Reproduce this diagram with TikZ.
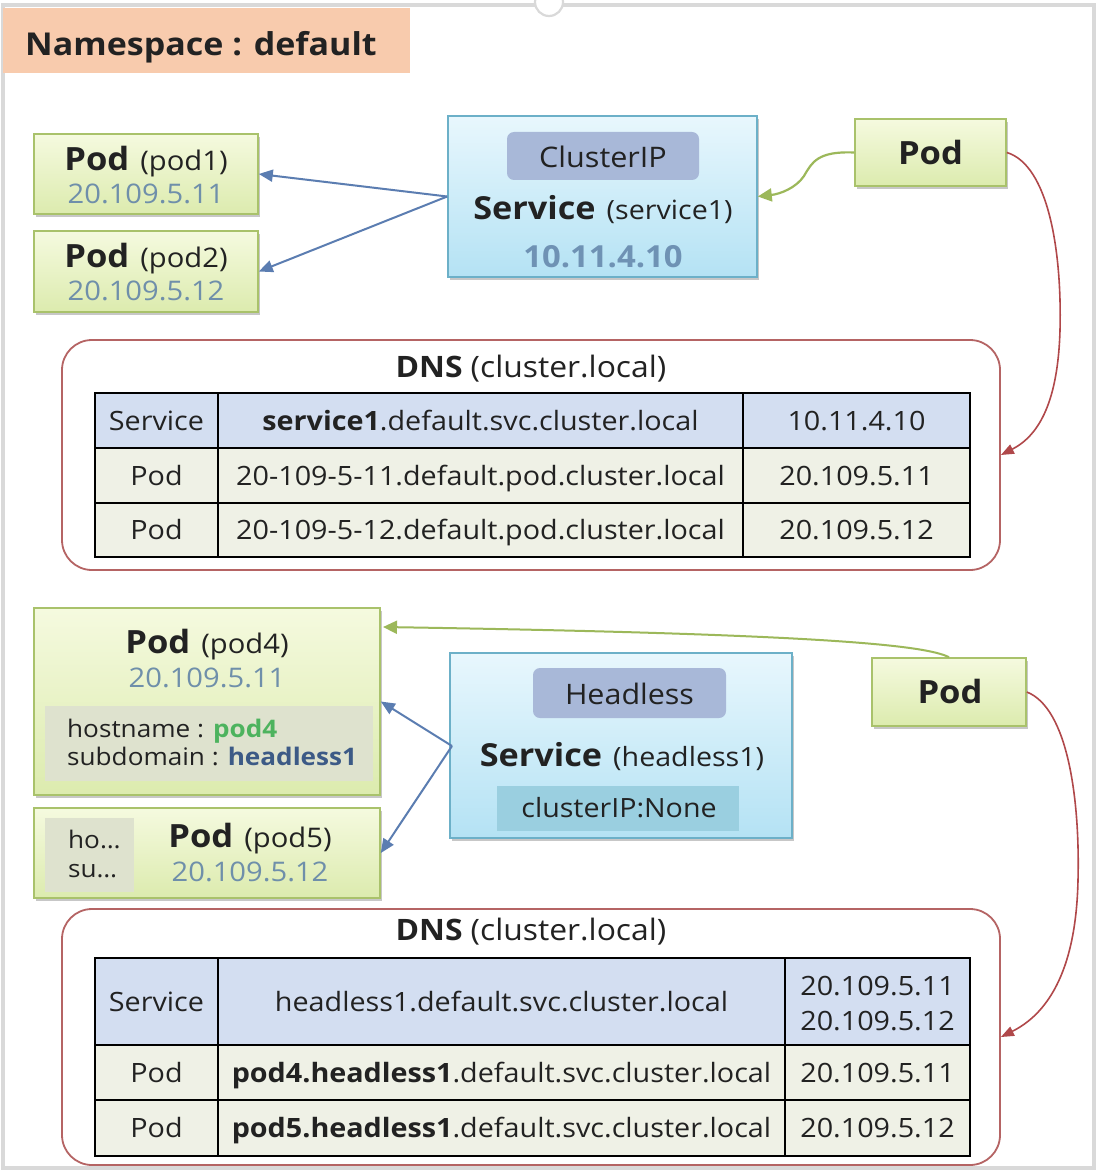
\documentclass[tikz,border=0pt]{standalone}
\usepackage{fontspec}
\setmainfont{Open Sans}[FakeStretch=1.08]
\usetikzlibrary{arrows.meta,shadows}
\definecolor{framegray}{HTML}{D9D9D9}
\definecolor{peach}{HTML}{F8CBAD}
\definecolor{podtop}{HTML}{F5FADF}
\definecolor{podbot}{HTML}{DCEBAE}
\definecolor{podborder}{HTML}{A9C26B}
\definecolor{svctop}{HTML}{E8F7FD}
\definecolor{svcbot}{HTML}{B4E2F4}
\definecolor{svcborder}{HTML}{6CB0C8}
\definecolor{tagfill}{HTML}{A8B8D8}
\definecolor{nonefill}{HTML}{9ACFE0}
\definecolor{ipcol}{HTML}{6F8FAA}
\definecolor{svcip}{HTML}{6F92B4}
\definecolor{bluearr}{HTML}{5B7DB1}
\definecolor{greenarr}{HTML}{9CB85A}
\definecolor{redarr}{HTML}{B0484A}
\definecolor{dnsborder}{HTML}{B56464}
\definecolor{rowblue}{HTML}{D3DEF1}
\definecolor{rowbeige}{HTML}{EFF1E6}
\definecolor{innergray}{HTML}{DEE2CE}
\definecolor{hostgreen}{HTML}{4DB35E}
\definecolor{subblue}{HTML}{3C5A86}
\definecolor{txt}{HTML}{222222}
\newcommand{\fs}[1]{\fontsize{#1}{#1}\selectfont}
\begin{document}
\begin{tikzpicture}[x=1pt,y=-1pt,
  f/.code={\pgfmathsetmacro\tmpth{0.72*#1}\edef\tmpx{\noexpand\tikzset{font=\noexpand\fs{#1},text height=\tmpth pt,text depth=0pt}}\tmpx},
  fb/.code={\pgfmathsetmacro\tmpth{0.72*#1}\edef\tmpx{\noexpand\tikzset{font=\noexpand\bfseries\noexpand\fs{#1},text height=\tmpth pt,text depth=0pt}}\tmpx},
  boxshadow/.style={drop shadow={shadow xshift=2pt,shadow yshift=-3pt,opacity=0.22,fill=black}},
  podbox/.style={draw=podborder,line width=1.6,top color=podtop,bottom color=podbot,boxshadow,inner sep=0},
  svcbox/.style={draw=svcborder,line width=1.6,top color=svctop,bottom color=svcbot,boxshadow,inner sep=0},
  tagbox/.style={fill=tagfill,rounded corners=7,inner sep=0},
  nonebox/.style={fill=nonefill,inner sep=0},
  innerbox/.style={fill=innergray,inner sep=0},
  dnsbox/.style={draw=dnsborder,line width=1.8,rounded corners=30,fill=white,inner sep=0},
  cell/.style={draw=black,line width=2.4,inner sep=0,text=txt,f=26.6},
  lbl/.style={inner sep=0,text=txt},
  bluearrow/.style={draw=bluearr,line width=2,-{Triangle[length=14pt,width=12pt]}},
  greenarrow/.style={draw=greenarr,line width=2.2,-{Triangle[length=14pt,width=13pt]}},
  redarrow/.style={draw=redarr,line width=1.6,-{Triangle[length=13pt,width=10pt]}}
]
\useasboundingbox (0,0) rectangle (1098,1174);
\fill[white] (0,0) rectangle (1098,1174);
% outer frame
\draw[framegray,line width=4] (3,5) rectangle (1094,1168);
\draw[framegray,line width=2.2,fill=white] (549,2) circle (14);
% namespace
\node[fill=peach,minimum width=407,minimum height=65,inner sep=0] (ns) at (206.5,40.5) {};
\node[lbl,anchor=west,fb=31.5] (nstext) at (25,44) {Namespace : default};

% ---------- top part ----------
\node[podbox,minimum width=224,minimum height=80] (pod1) at (146,174) {};
\node[lbl,fb=32] (pod1a) at (146,159) {Pod\hspace{11pt}\fs{27}\mdseries(pod1)};
\node[lbl,text=ipcol,f=27] (pod1b) at (146,194) {20.109.5.11};

\node[podbox,minimum width=224,minimum height=81] (pod2) at (146,271.5) {};
\node[lbl,fb=32] (pod2a) at (146,256) {Pod\hspace{11pt}\fs{27}\mdseries(pod2)};
\node[lbl,text=ipcol,f=27] (pod2b) at (146,291) {20.109.5.12};

\node[svcbox,minimum width=309,minimum height=161] (svc1) at (602.5,196.5) {};
\node[tagbox,minimum width=192,minimum height=48] (cip) at (603,156) {};
\node[lbl,f=28.3] (ciptext) at (603,157) {ClusterIP};
\node[lbl,fb=31.7] (svc1name) at (603,208) {Service\hspace{11pt}\fs{26.5}\mdseries(service1)};
\node[lbl,text=svcip,fb=30.4] (svc1ip) at (603,257) {10.11.4.10};

\node[podbox,minimum width=151,minimum height=67] (podA) at (930.5,152.5) {};
\node[lbl,fb=32] (podAtext) at (930.5,153) {Pod};

\draw[bluearrow] (svc1.west) -- (pod1.east);
\draw[bluearrow] (svc1.west) -- (pod2.east);
\draw[greenarrow] (podA.west) .. controls (818,151) and (812,162) .. (804,176)
   .. controls (796,188) and (780,194) .. (svc1.east);

% DNS 1
\node[dnsbox,minimum width=938,minimum height=230] (dns1) at (531,455) {};
\node[lbl,fb=29.5] (dns1t) at (531,367) {DNS\hspace{8pt}\mdseries(cluster.local)};
\node[cell,fill=rowblue,minimum width=123,minimum height=55] (a11) at (156.5,420.5) {Service};
\node[cell,fill=rowblue,minimum width=525,minimum height=55] (a12) at (480.5,420.5) {\textbf{service1}.default.svc.cluster.local};
\node[cell,fill=rowblue,minimum width=227,minimum height=55] (a13) at (856.5,420.5) {10.11.4.10};
\node[cell,fill=rowbeige,minimum width=123,minimum height=55] (a21) at (156.5,475.5) {Pod};
\node[cell,fill=rowbeige,minimum width=525,minimum height=55] (a22) at (480.5,475.5) {20-109-5-11.default.pod.cluster.local};
\node[cell,fill=rowbeige,minimum width=227,minimum height=55] (a23) at (856.5,475.5) {20.109.5.11};
\node[cell,fill=rowbeige,minimum width=123,minimum height=54] (a31) at (156.5,530) {Pod};
\node[cell,fill=rowbeige,minimum width=525,minimum height=54] (a32) at (480.5,530) {20-109-5-12.default.pod.cluster.local};
\node[cell,fill=rowbeige,minimum width=227,minimum height=54] (a33) at (856.5,530) {20.109.5.12};

\draw[redarrow] (podA.east) .. controls (1048,165) and (1062,250) .. (1060,330)
   .. controls (1058,400) and (1040,435) .. (dns1.east);

% ---------- bottom part ----------
\node[podbox,minimum width=346,minimum height=187] (pod4) at (207,701.5) {};
\node[lbl,fb=32] (pod4a) at (207,642) {Pod\hspace{11pt}\fs{27}\mdseries(pod4)};
\node[lbl,text=ipcol,f=27] (pod4b) at (207,678) {20.109.5.11};
\node[innerbox,minimum width=328,minimum height=75] (pod4in) at (209,743.5) {};
\node[lbl,anchor=west,f=24.2] (pod4h) at (67,729) {hostname : \textcolor{hostgreen}{\bfseries pod4}};
\node[lbl,anchor=west,f=24.2] (pod4s) at (67,757) {subdomain : \textcolor{subblue}{\bfseries headless1}};

\node[podbox,minimum width=346,minimum height=90] (pod5) at (207,853) {};
\node[innerbox,minimum width=89,minimum height=74] (pod5in) at (89.5,855) {};
\node[lbl,anchor=west,f=24.2] (pod5h) at (68,840) {ho…};
\node[lbl,anchor=west,f=24.2] (pod5s) at (68,869) {su…};
\node[lbl,fb=32] (pod5a) at (250,836) {Pod\hspace{11pt}\fs{27}\mdseries(pod5)};
\node[lbl,text=ipcol,f=27] (pod5b) at (250,872) {20.109.5.12};

\node[svcbox,minimum width=342,minimum height=185] (hsvc) at (621,745.5) {};
\node[tagbox,minimum width=193,minimum height=50] (htag) at (629.5,693) {};
\node[lbl,f=28.2] (htagtext) at (629.5,694) {Headless};
\node[lbl,fb=31.7] (hname) at (622,755) {Service\hspace{11pt}\fs{26.5}\mdseries(headless1)};
\node[nonebox,minimum width=242,minimum height=45] (hnone) at (618,808.5) {};
\node[lbl,f=26.5] (hnonetext) at (619,808) {clusterIP:None};

\node[podbox,minimum width=154,minimum height=68] (podB) at (949,692) {};
\node[lbl,fb=32] (podBtext) at (950,692) {Pod};

\coordinate (hsrc) at (452,746);
\draw[bluearrow] (hsrc) -- (pod4.east);
\draw[bluearrow] (hsrc) -- (pod5.east);
\coordinate (p4in) at (383,627);
\draw[greenarrow,line width=2] (podB.north) .. controls (925,645) and (820,634) .. (p4in);

% DNS 2
\node[dnsbox,minimum width=938,minimum height=256] (dns2) at (531,1037) {};
\node[lbl,fb=29.5] (dns2t) at (531,930) {DNS\hspace{8pt}\mdseries(cluster.local)};
\node[cell,fill=rowblue,minimum width=123,minimum height=87] (b11) at (156.5,1001.5) {Service};
\node[cell,fill=rowblue,minimum width=567,minimum height=87] (b12) at (501.5,1001.5) {headless1.default.svc.cluster.local};
\node[cell,fill=rowblue,minimum width=185,minimum height=87] (b13) at (877.5,1001.5) {};
\node[lbl,f=26.6] (b13a) at (877.5,986) {20.109.5.11};
\node[lbl,f=26.6] (b13b) at (877.5,1021) {20.109.5.12};
\node[cell,fill=rowbeige,minimum width=123,minimum height=55] (b21) at (156.5,1072.5) {Pod};
\node[cell,fill=rowbeige,minimum width=567,minimum height=55] (b22) at (501.5,1072.5) {\textbf{pod4.headless1}.default.svc.cluster.local};
\node[cell,fill=rowbeige,minimum width=185,minimum height=55] (b23) at (877.5,1072.5) {20.109.5.11};
\node[cell,fill=rowbeige,minimum width=123,minimum height=56] (b31) at (156.5,1128) {Pod};
\node[cell,fill=rowbeige,minimum width=567,minimum height=56] (b32) at (501.5,1128) {\textbf{pod5.headless1}.default.svc.cluster.local};
\node[cell,fill=rowbeige,minimum width=185,minimum height=56] (b33) at (877.5,1128) {20.109.5.12};

\draw[redarrow] (podB.east) .. controls (1068,708) and (1080,800) .. (1078,880)
   .. controls (1076,975) and (1045,1015) .. (dns2.east);
\end{tikzpicture}
\end{document}
